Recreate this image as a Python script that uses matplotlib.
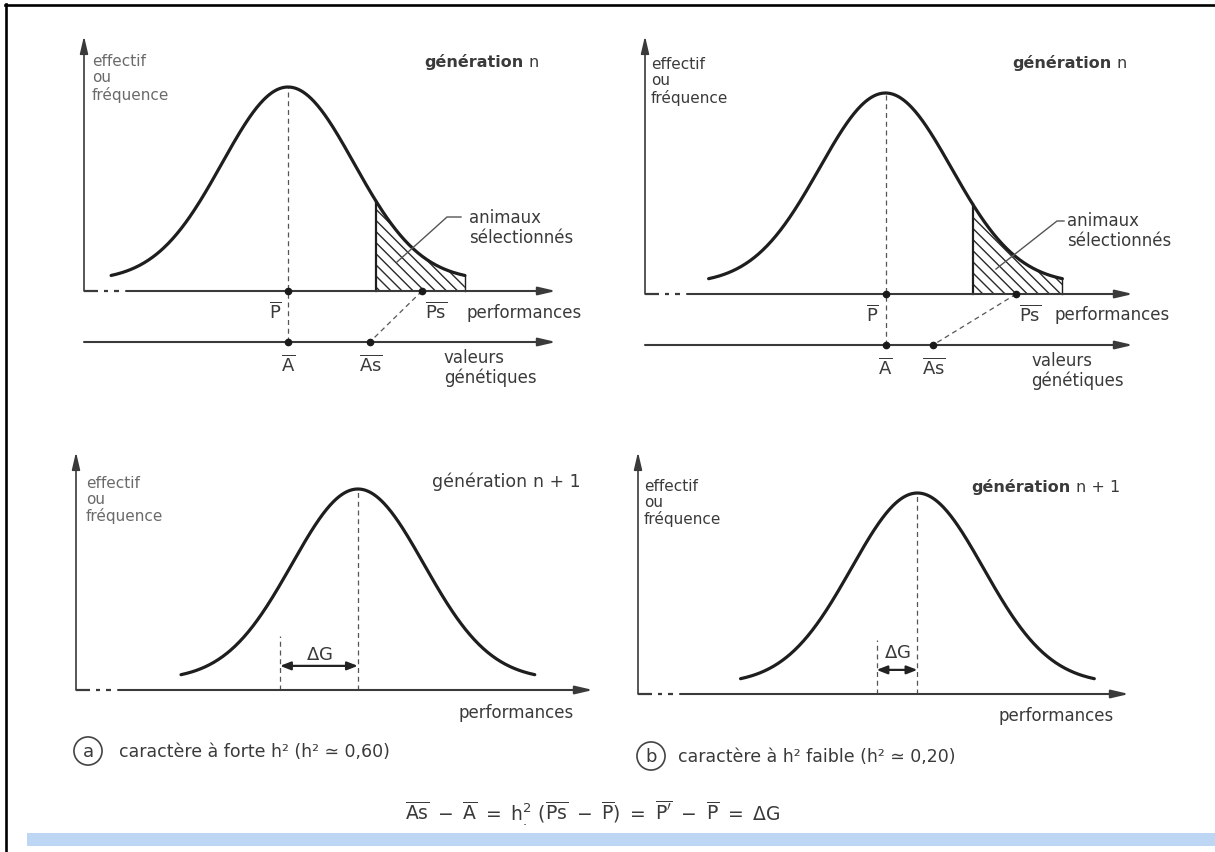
import numpy as np
import matplotlib
matplotlib.use('Agg')
import matplotlib.pyplot as plt
from matplotlib.transforms import Affine2D
from matplotlib.patches import Rectangle
from matplotlib.lines import Line2D

plt.rcParams['font.family'] = ['DejaVu Sans']
plt.rcParams['mathtext.fontset'] = 'dejavusans'
plt.rcParams['hatch.linewidth'] = 1.0

# ---------------- data (phenotypic SD units, mean of generation n = 0) -------------
PANELS = ['a', 'b']
H2 = [0.60, 0.20]
CURVE_SPAN = 2.68          # tails drawn to +/- 2.68 SD
CURVE_BASE = 0.05          # tails stay slightly above the axis
SEL_THRESHOLD = [1.33, 1.32]   # start of the selected (hatched) animals
PS_MEAN = [2.03, 1.98]         # mean performance of selected animals
AS_MEAN = [1.24, 0.72]         # mean genetic value of selected animals
DELTA_G = [1.18, 0.62]         # genetic gain, shift of generation n+1
CAPTIONS = ['caractère à forte h² (h² ≃ 0,60)',
            'caractère à h² faible (h² ≃ 0,20)']
YLABEL = 'effectif\nou\nfréquence'
FORMULA = (r'$\overline{\mathrm{As}}\ -\ \overline{\mathrm{A}}\ =\ \mathrm{h}^{2}_{.}\ '
           r'(\overline{\mathrm{Ps}}\ -\ \overline{\mathrm{P}})\ =\ \overline{\mathrm{P}^{\prime}}'
           r'\ -\ \overline{\mathrm{P}}\ =\ \Delta\mathrm{G}$')

# ---------------- layout (pixels) -------------
W, H = 1215, 853
SX = 66.0
TOP_L = [dict(yx=84, ay=292, tip=556, top=37, mx=288, pk=204, gy=343),
         dict(yx=645, ay=295, tip=1133, top=37, mx=885.5, pk=201, gy=346)]
BOT_L = [dict(yx=76, ay=691, tip=593, top=453, mx=280, pk=201),
         dict(yx=638, ay=695, tip=1129, top=453, mx=876.5, pk=201)]

AXC = '#3a3a3a'
CURC = '#1e1e1e'
TXC = '#3a3a3a'

fig = plt.figure(figsize=(W / 100, H / 100), dpi=100)
fig.patch.set_facecolor('white')
PX = Affine2D().scale(1 / W, -1 / H).translate(0, 1) + fig.transFigure


def panel_axes(L, bottom_px):
    l, r, t, b = L['yx'] - 30, L['tip'] + 30, L['top'] - 15, bottom_px
    ax = fig.add_axes([l / W, 1 - b / H, (r - l) / W, (b - t) / H])
    ax.set_xlim((l - L['mx']) / SX, (r - L['mx']) / SX)
    ax.set_ylim((L['ay'] - b) / L['pk'], (L['ay'] - t) / L['pk'])
    ax.axis('off')
    return ax


def arrow(ax, x0, y0, x1, y1, lw=1.3):
    ax.annotate('', xy=(x1, y1), xytext=(x0, y0),
                arrowprops=dict(arrowstyle='-|>,head_length=1.5,head_width=0.35',
                                mutation_scale=7, lw=lw, color=AXC,
                                shrinkA=0, shrinkB=0))


def draw_frame(ax, L):
    x0 = (L['yx'] - L['mx']) / SX
    xt = (L['tip'] - L['mx']) / SX
    yt = (L['ay'] - L['top']) / L['pk']
    arrow(ax, x0, 0, x0, yt, lw=1.2)
    for a, b in [(0, 14), (20, 24), (30, 35)]:
        ax.plot([x0 + a / SX, x0 + b / SX], [0, 0], color=AXC, lw=1.6,
                solid_capstyle='butt')
    arrow(ax, x0 + 42 / SX, 0, xt, 0, lw=1.5)
    return x0, xt


def bell(center):
    x = np.linspace(center - CURVE_SPAN, center + CURVE_SPAN, 400)
    y = CURVE_BASE + (1 - CURVE_BASE) * np.exp(-0.5 * (x - center) ** 2)
    return x, y


def bar(s):
    return r'$\overline{\mathrm{%s}}$' % s


def label_text(x, y, s, size=11, color=TXC, **kw):
    return fig.text(x, y, s, transform=PX, fontsize=size, color=color, **kw)


def gen_title(x, y, extra, bold=True, size=11.5):
    t = label_text(x, y, 'génération', size=size,
                   fontweight='bold' if bold else 'normal', va='center', ha='left')
    fig.axes[-1].annotate(extra, xy=(1, 0), xycoords=t, xytext=(4, 0),
                          textcoords='offset points', va='bottom', ha='left',
                          fontsize=size, color=TXC)


# ---------------- top panels: generation n ----------------
top_text = [dict(eff=(92, 78.5), gen=(424, 62), anim=(469, 228),
                 lead=[(461, 218), (447, 218), (397, 263)],
                 perf=(466, 313), val=(444, 368)),
            dict(eff=(651, 81.5), gen=(1012, 63), anim=(1067, 231),
                 lead=[(1064, 222), (1057, 222), (996, 270)],
                 perf=(1055, 315), val=(1031, 371))]

for i, L in enumerate(TOP_L):
    ax = panel_axes(L, 400)
    x0, xt = draw_frame(ax, L)
    gy = (L['ay'] - L['gy']) / L['pk']
    arrow(ax, x0, gy, xt, gy, lw=1.5)

    x, y = bell(0.0)
    ax.plot(x, y, color=CURC, lw=2.3, solid_capstyle='round', zorder=4)
    sel = x >= SEL_THRESHOLD[i]
    ax.fill_between(x[sel], 0, y[sel], facecolor='none', edgecolor='#2a2a2a',
                    hatch='\\\\\\', lw=0, zorder=2)
    ysel = CURVE_BASE + (1 - CURVE_BASE) * np.exp(-0.5 * SEL_THRESHOLD[i] ** 2)
    ax.plot([SEL_THRESHOLD[i], SEL_THRESHOLD[i]], [0, ysel], color=CURC, lw=1.6)
    ax.plot([CURVE_SPAN, CURVE_SPAN], [0, y[-1]], color=CURC, lw=1.0)

    # mean lines and points
    ax.plot([0, 0], [gy, 1.0], ls=(0, (4, 3)), color='#555555', lw=0.9, zorder=1)
    ax.plot([PS_MEAN[i], AS_MEAN[i]], [0, gy], ls=(0, (4, 3)), color='#555555', lw=0.9)
    ax.plot([0, PS_MEAN[i], 0, AS_MEAN[i]], [0, 0, gy, gy], 'o', ms=4.5,
            color='#1a1a1a', zorder=5)

    for s, xv, yv, dxo in [('P', 0, 0, -13), ('Ps', PS_MEAN[i], 0, 14)]:
        ax.annotate(bar(s), xy=(xv, yv), xytext=(dxo, -20), textcoords='offset pixels',
                    ha='center', va='center', fontsize=13, color=TXC)
    for s, xv, dxo in [('A', 0, 0), ('As', AS_MEAN[i], 1)]:
        ax.annotate(bar(s), xy=(xv, gy), xytext=(dxo, -22), textcoords='offset pixels',
                    ha='center', va='center', fontsize=13, color=TXC)

    T = top_text[i]
    label_text(*T['eff'], YLABEL, size=11, color='#6a6a6a' if i == 0 else TXC,
               va='center', ha='left', linespacing=1.1)
    gen_title(*T['gen'], 'n')
    label_text(*T['anim'], 'animaux\nsélectionnés', size=12, va='center', ha='left',
               linespacing=1.15)
    lx, ly = zip(*T['lead'])
    fig.add_artist(Line2D(lx, ly, transform=PX, color='#555555', lw=1.0))
    label_text(*T['perf'], 'performances', size=12, va='center', ha='left')
    label_text(*T['val'], 'valeurs\ngénétiques', size=12, va='center', ha='left',
               linespacing=1.15)

# ---------------- bottom panels: generation n + 1 ----------------
bot_text = [dict(eff=(86, 500), gen=(432, 482), perf=(459, 713), circ=(88, 752),
                 cap=(119, 752), bold=False, gsize=12.5, dg_off=12),
            dict(eff=(644, 503), gen=(971, 487), perf=(999, 716), circ=(651, 757),
                 cap=(678, 757), bold=True, gsize=11.5, dg_off=18)]

for i, L in enumerate(BOT_L):
    ax = panel_axes(L, 735)
    draw_frame(ax, L)
    dg = DELTA_G[i]
    x, y = bell(dg)
    ax.plot(x, y, color=CURC, lw=2.3, solid_capstyle='round', zorder=4)
    ax.plot([dg, dg], [0, 1.0], ls=(0, (4, 3)), color='#555555', lw=0.9, zorder=1)
    ax.plot([0, 0], [0, 0.27], ls=(0, (4, 3)), color='#555555', lw=0.9, zorder=1)
    ya = 0.12
    ax.annotate('', xy=(0, ya), xytext=(dg, ya),
                arrowprops=dict(arrowstyle='<|-|>,head_length=0.9,head_width=0.35',
                                mutation_scale=7, lw=1.6, color='#222222',
                                shrinkA=0, shrinkB=0))
    ax.annotate(r'$\Delta\mathrm{G}$', xy=(dg / 2, ya), xytext=(0, bot_text[i]['dg_off']),
                textcoords='offset pixels', ha='center', va='center', fontsize=13,
                color=TXC)

    T = bot_text[i]
    label_text(*T['eff'], YLABEL, size=11, color='#6a6a6a' if i == 0 else TXC,
               va='center', ha='left', linespacing=1.1)
    gen_title(*T['gen'], 'n + 1', bold=T['bold'], size=T['gsize'])
    label_text(*T['perf'], 'performances', size=12, va='center', ha='left')
    label_text(*T['circ'], PANELS[i], size=13, va='center', ha='center',
               bbox=dict(boxstyle='circle,pad=0.28', fc='none', ec='#444444', lw=1.2))
    label_text(*T['cap'], CAPTIONS[i], size=12.5, va='center', ha='left')

# ---------------- formula, frame and band ----------------
label_text(593, 813, FORMULA, size=13.5, va='center', ha='center')
fig.add_artist(Line2D([5, 1215], [6, 6], transform=PX, color='black', lw=1.9))
fig.add_artist(Line2D([6, 6], [5, 853], transform=PX, color='black', lw=1.9))
fig.add_artist(Rectangle((27, 834), 1188, 13, transform=PX, facecolor='#bcd6f3',
                         edgecolor='none'))

fig.savefig('out.png', dpi=100, facecolor='white')
